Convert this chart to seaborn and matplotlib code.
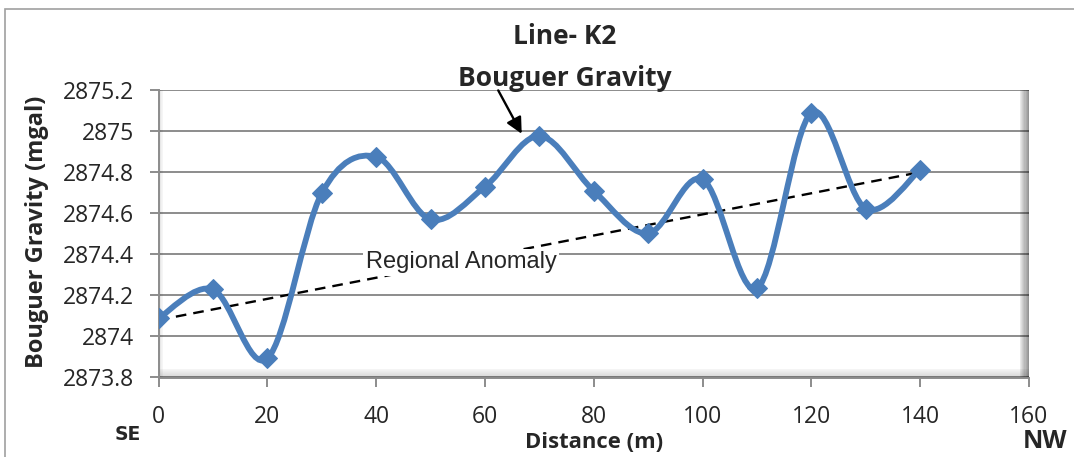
import numpy as np
import pandas as pd
import matplotlib
matplotlib.use("Agg")
import matplotlib.pyplot as plt
import seaborn as sns
from matplotlib.path import Path
from matplotlib.patches import PathPatch, Rectangle
from matplotlib.ticker import FuncFormatter

# dati
distanza = [0, 10, 20, 30, 40, 50, 60, 70, 80, 90, 100, 110, 120, 130, 140]
gravita = [2874.088, 2874.229, 2873.893, 2874.697, 2874.875, 2874.570, 2874.729,
           2874.976, 2874.709, 2874.502, 2874.765, 2874.234, 2875.089, 2874.622, 2874.812]
regionale_x = [0, 140]
regionale_y = [2874.08, 2874.80]

x_ticks = [0, 20, 40, 60, 80, 100, 120, 140, 160]
y_ticks = [2873.8, 2874.0, 2874.2, 2874.4, 2874.6, 2874.8, 2875.0, 2875.2]

BLU = "#4A7EBB"
GRIGIO = "#8C8C8C"

sns.set_style("white")
plt.rcParams["font.family"] = ["Open Sans", "DejaVu Sans"]

fig = plt.figure(figsize=(10.74, 4.57), dpi=100)
ax = fig.add_axes([158.5 / 1074, 1 - 377.5 / 457, (1029 - 158.5) / 1074, (377.5 - 90) / 457])

df = pd.DataFrame({"x": distanza, "y": gravita})
df_reg = pd.DataFrame({"x": regionale_x, "y": regionale_y})


def smooth_path(xs, ys):
    # curva smussata tipo Excel (Bezier sui punti)
    pts = np.column_stack([xs, ys])
    n = len(pts)
    verts = [pts[0]]
    codes = [Path.MOVETO]
    for i in range(n - 1):
        p0 = pts[i - 1] if i > 0 else pts[i]
        p1 = pts[i]
        p2 = pts[i + 1]
        p3 = pts[i + 2] if i + 2 < n else pts[i + 1]
        c1 = p1 + (p2 - p0) / 6.0
        c2 = p2 - (p3 - p1) / 6.0
        verts += [c1, c2, p2]
        codes += [Path.CURVE4] * 3
    return Path(verts, codes)


# linea regionale tratteggiata
sns.lineplot(data=df_reg, x="x", y="y", ax=ax, color="black", linewidth=1.7,
             linestyle=(0, (4.5, 3)), zorder=3)

ax.add_patch(PathPatch(smooth_path(df["x"].values, df["y"].values), facecolor="none",
                       edgecolor=BLU, linewidth=4.2, zorder=4, capstyle="round"))
sns.lineplot(data=df, x="x", y="y", ax=ax, color=BLU, linestyle="", marker="D",
             markersize=10, markeredgecolor=BLU, zorder=5)

ax.set_xlim(0, 160)
ax.set_ylim(2873.8, 2875.2)
ax.set_xticks(x_ticks)
ax.set_yticks(y_ticks)
ax.yaxis.set_major_formatter(FuncFormatter(lambda v, p: f"{v:.1f}".rstrip("0").rstrip(".")))

ax.grid(axis="y", color=GRIGIO, linewidth=1.4, zorder=1)
ax.grid(axis="x", visible=False)
for s in ["top", "right"]:
    ax.spines[s].set_visible(False)
ax.spines["left"].set_color(GRIGIO)
ax.spines["left"].set_linewidth(1.4)
ax.spines["bottom"].set_color(GRIGIO)
ax.spines["bottom"].set_linewidth(1.4)
ax.tick_params(axis="both", which="major", length=6.5, width=1.4, color=GRIGIO,
               labelsize=16.5, direction="out", left=True, bottom=True)
ax.tick_params(axis="y", pad=11)
ax.tick_params(axis="x", pad=13)

# effetto 3D: ombre sui bordi dell'area del grafico
for k in range(8):
    a = (k + 1) / 8.0
    ax.add_patch(Rectangle((1 - 0.0013 * (8 - k), 0), 0.0013, 1, transform=ax.transAxes,
                           facecolor="black", alpha=0.04 + a * 0.38, linewidth=0, zorder=2))
    ax.add_patch(Rectangle((0, 0.0035 * (7 - k)), 1, 0.0035, transform=ax.transAxes,
                           facecolor="black", alpha=0.03 + a * 0.12, linewidth=0, zorder=2))
    ax.add_patch(Rectangle((0.0008 * k, 0), 0.0008, 1, transform=ax.transAxes,
                           facecolor="black", alpha=(1 - a) * 0.15, linewidth=0, zorder=2))

ax.set_xlabel("")
ax.set_ylabel("")

ax.text(55.6, 2874.36, "Regional Anomaly", family=["Liberation Sans"], fontsize=17,
        ha="center", va="center", zorder=6,
        bbox=dict(facecolor="white", edgecolor="none", pad=2))

ax.annotate("", xy=(67.0, 2874.975), xytext=(62.2, 2875.21),
            arrowprops=dict(arrowstyle="-|>", color="black", lw=1.7, mutation_scale=24),
            annotation_clip=False, zorder=7)

fig.text(565 / 1074, 1 - 37 / 457, "Line- K2", ha="center", va="center",
         fontsize=19, fontweight="bold")
fig.text(565 / 1074, 1 - 78 / 457, "Bouguer Gravity", ha="center", va="center",
         fontsize=19, fontweight="bold")
fig.text(37 / 1074, 1 - 232 / 457, "Bouguer Gravity (mgal)", ha="center", va="center",
         rotation=90, fontsize=17, fontweight="bold")
fig.text(594 / 1074, 1 - 443 / 457, "Distance (m)", ha="center", va="center",
         fontsize=15.8, fontweight="bold")
fig.text(128 / 1074, 1 - 434 / 457, "SE", ha="center", va="center",
         fontsize=13.5, fontweight="bold", family=["DejaVu Sans"])
fig.text(1045 / 1074, 1 - 442 / 457, "NW", ha="center", va="center",
         fontsize=18, fontweight="bold")

# bordo esterno
fig.patches.append(Rectangle((5 / 1074, -0.1), 1.2, 1 - 9 / 457 + 0.1, transform=fig.transFigure,
                             facecolor="none", edgecolor="#A0A0A0", linewidth=1.2))

fig.savefig("out.png", dpi=100)
plt.close(fig)
